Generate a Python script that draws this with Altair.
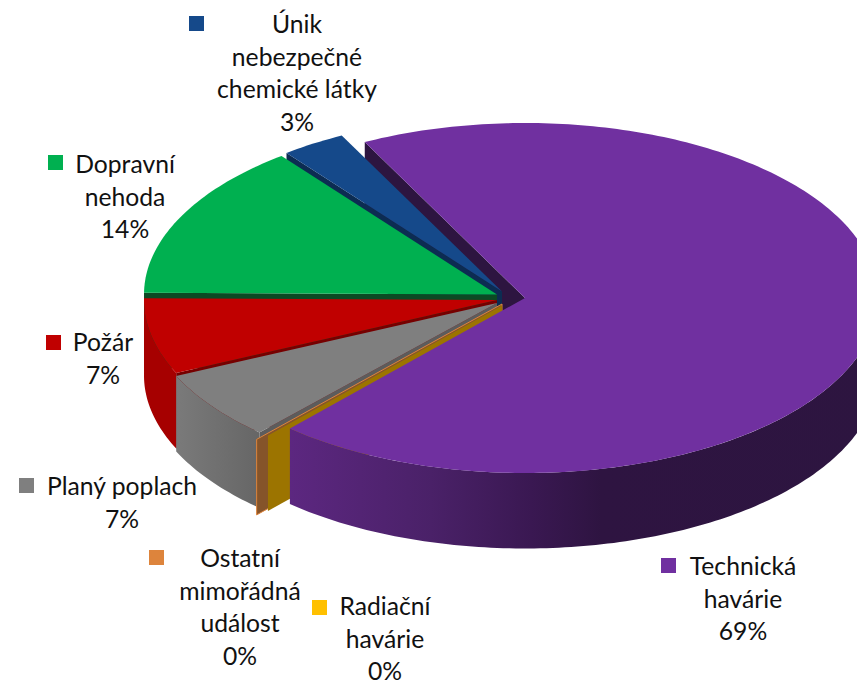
import math
import altair as alt
import pandas as pd

# ---- chart values -------------------------------------------------------
categories = ["Technická havárie", "Radiační havárie", "Ostatní mimořádná událost",
              "Planý poplach", "Požár", "Dopravní nehoda", "Únik nebezpečné chemické látky"]
shares = [69.1, 0.05, 0.1, 6.4, 7.0, 14.4, 2.95]          # slice sizes as drawn
percent_labels = ["69%", "0%", "0%", "7%", "7%", "14%", "3%"]
label_lines = [["Technická", "havárie"], ["Radiační", "havárie"], ["Ostatní", "mimořádná", "událost"],
               ["Planý poplach"], ["Požár"], ["Dopravní", "nehoda"], ["Únik", "nebezpečné", "chemické látky"]]
legend_colors = ["#7030a0", "#ffc000", "#dd843c", "#7f7f7f", "#c00000", "#00b050", "#15498a"]

# ---- layout (pixels in the page) ------------------------------------------
W, H, M = 857, 684, 8
RX, RY, DEPTH = 353.0, 175.0, 75.5
START = 243.0
centers = [(525, 298), (502, 305.5), (502, 304), (497, 303), (497, 300), (497, 294.5), (502, 291.5)]
radius_k = [1, 0.9955, 1.04, 1, 1, 1, 1]
label_x = [743, 385, 240, 122, 103, 125, 297]
label_y0 = [568, 608, 560, 488, 344, 166, 26]
line_step = 32.5
square_xy = [(668.5, 565.5), (319.5, 607.5), (156.5, 557.5), (26.5, 485.5), (53.5, 342.5), (55.5, 162.5), (196.5, 23.5)]
top_dark = ["#2d1540", "#9c7400", "#85542a", "#5c5c5c", "#760000", "#0b4a24", "#0c2c52"]

total = sum(shares)
angles = []
a = START
for s in shares:
    b = a + s / total * 360
    angles.append((a, b))
    a = b


def rim(i, deg, dy=0.0):
    cx, cy = centers[i]
    k = radius_k[i]
    t = math.radians(deg)
    return [cx + k * RX * math.cos(t) - M, cy + k * RY * math.sin(t) + dy - M]


def apex(i, dy=0.0):
    return [centers[i][0] - M, centers[i][1] + dy - M]


def arc(i, d0, d1, dy=0.0, step=1.0):
    n = max(2, int(abs(d1 - d0) / step) + 1)
    return [rim(i, d0 + (d1 - d0) * j / (n - 1), dy) for j in range(n)]


def top_face(i):
    a0, a1 = angles[i]
    return [apex(i)] + arc(i, a0, a1) + [apex(i)]


def radial_face(i, deg):
    return [apex(i), rim(i, deg), rim(i, deg, DEPTH), apex(i, DEPTH), apex(i)]


def outer_wall(i, d0, d1):
    up = arc(i, d0, d1)
    down = arc(i, d1, d0, DEPTH)
    return up + down + [up[0]]


def shape(ring, **mark):
    df = alt.Data(values=[{"type": "Feature", "properties": {},
                           "geometry": {"type": "Polygon", "coordinates": [ring]}}])
    base = dict(clip=True, strokeWidth=0)
    base.update(mark)
    return alt.Chart(df).mark_geoshape(**base).project(type="identity", scale=1, translate=[0, 0])


def grad(stops):
    return alt.Gradient(gradient="linear", x1=0, x2=1, y1=0, y2=0,
                        stops=[alt.GradientStop(offset=o, color=c) for o, c in stops])


T, RAD, OTH, GRY, RED, GRN, BLU = range(7)
layers = [
    shape(radial_face(T, angles[T][0]), fill=top_dark[T]),
    shape(radial_face(BLU, angles[BLU][0]), fill=top_dark[BLU]),
    shape(top_face(BLU), fill=legend_colors[BLU]),
    shape(radial_face(GRN, angles[GRN][0]), fill=top_dark[GRN]),
    shape(top_face(GRN), fill=legend_colors[GRN]),
    shape(radial_face(RED, angles[RED][0]), fill=top_dark[RED]),
    shape(outer_wall(RED, *angles[RED]), fill="#a60000"),
    shape(top_face(RED), fill=legend_colors[RED]),
    shape(radial_face(GRY, angles[GRY][0]), fill=top_dark[GRY]),
    shape(outer_wall(GRY, *angles[GRY]), fill=grad([(0, "#7a7a7a"), (1, "#666666")])),
    shape(top_face(GRY), fill=legend_colors[GRY]),
    shape(radial_face(OTH, angles[OTH][0]), fill=top_dark[OTH], stroke="#dd843c", strokeWidth=1),
    shape(radial_face(RAD, angles[RAD][0]), fill=top_dark[RAD]),
    shape(outer_wall(T, angles[T][1] - 360, 0),
          fill=grad([(0, "#5c2780"), (0.24, "#4a2168"), (0.41, "#3a1852"), (0.53, "#2e1441"), (1, "#2d1540")])),
    shape(top_face(T), fill=legend_colors[T]),
]

rows = []
for i, lines in enumerate(label_lines):
    for j, txt in enumerate(lines + [percent_labels[i]]):
        rows.append({"px": label_x[i], "py": label_y0[i] + j * line_step, "t": txt})
text_df = pd.DataFrame(rows)
sq_df = pd.DataFrame({"px": [p[0] for p in square_xy], "py": [p[1] for p in square_xy], "c": legend_colors})

xs = alt.Scale(domain=[M, W], nice=False, zero=False)
ys = alt.Scale(domain=[H, M], nice=False, zero=False)
text = alt.Chart(text_df).mark_text(font="Lato", fontSize=24.7, color="#111111", align="center",
                                    baseline="middle").encode(
    x=alt.X("px:Q", scale=xs, axis=None), y=alt.Y("py:Q", scale=ys, axis=None), text="t:N")
squares = alt.Chart(sq_df).mark_square(size=225, opacity=1, filled=True).encode(
    x=alt.X("px:Q", scale=xs, axis=None), y=alt.Y("py:Q", scale=ys, axis=None),
    color=alt.Color("c:N", scale=None, legend=None))

chart = alt.layer(*layers, squares, text).properties(
    width=W - M, height=H - M, padding=0,
).configure_view(stroke=None)

chart.save("out.html", embed_options={"renderer": "svg", "actions": False})
